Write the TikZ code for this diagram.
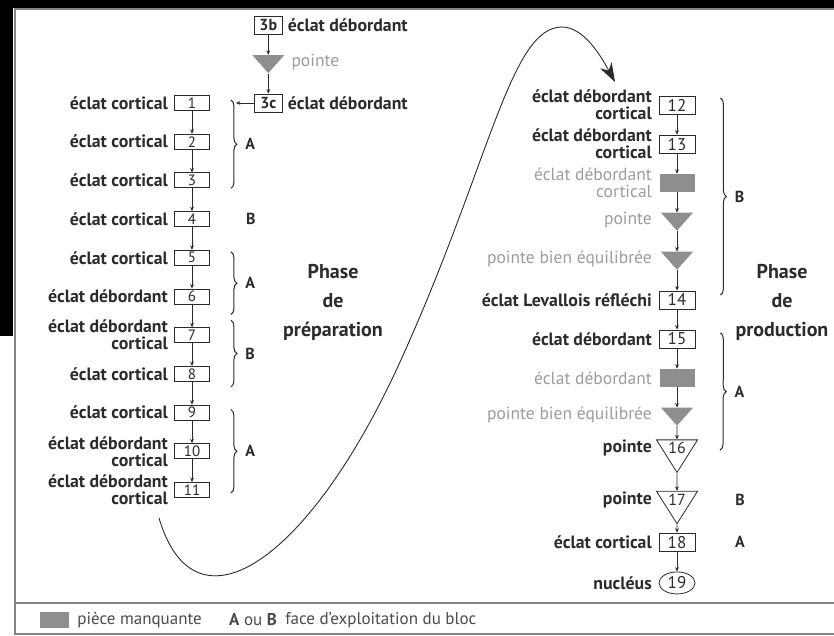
\documentclass[tikz,border=0pt]{standalone}
\usepackage{fontspec}
\setmainfont{PT Sans}
\usepackage{tikz}
\usepackage{xcolor}
\usetikzlibrary{arrows.meta,positioning,calc,shapes.geometric,decorations.pathreplacing}
\definecolor{Ink}{HTML}{2B2B2B}
\definecolor{Faded}{HTML}{9C9C9C}
\definecolor{Lost}{HTML}{8E8E8E}
\definecolor{Rule}{HTML}{858585}
\tikzset{
  numbox/.style={draw=Ink,line width=0.8pt,fill=white,minimum width=35pt,minimum height=15pt,inner sep=0pt,font=\fontsize{15}{15}\selectfont,text=Ink},
  bignumbox/.style={numbox,minimum width=36pt,minimum height=18pt,font=\fontsize{17}{17}\selectfont},
  topbox/.style={numbox,minimum width=28pt,minimum height=18pt,font=\bfseries\fontsize{16}{16}\selectfont},
  lostbox/.style={fill=Lost,minimum width=35pt,minimum height=18pt,inner sep=0pt},
  losttri/.style={fill=Lost,isosceles triangle,shape border rotate=270,isosceles triangle stretches,minimum width=32pt,minimum height=18pt,inner sep=0pt},
  tribox/.style={draw=Ink,line width=0.8pt,fill=white,isosceles triangle,shape border rotate=270,isosceles triangle stretches,minimum width=41pt,minimum height=27pt,inner sep=0pt,font=\fontsize{16}{16}\selectfont,text=Ink},
  nucbox/.style={draw=Ink,line width=0.8pt,ellipse,minimum width=36pt,minimum height=22pt,inner sep=0pt,font=\fontsize{17}{17}\selectfont,text=Ink},
  lab/.style={font=\bfseries\fontsize{17.8}{17}\selectfont,text=Ink,align=right,inner sep=0pt},
  greylab/.style={lab,font=\fontsize{17.5}{17}\selectfont,text=Faded},
  face/.style={font=\bfseries\fontsize{16}{16}\selectfont,text=Ink,inner sep=0pt},
  phase/.style={font=\bfseries\fontsize{20}{29}\selectfont,align=center,text=Ink},
  keytxt/.style={font=\fontsize{17}{17}\selectfont,text=Ink!85,inner sep=0pt},
  edgeline/.style={draw=Rule,line width=1.4pt},
  arr/.style={-{Stealth[length=4.5pt,width=3.8pt]},draw=Ink,line width=0.7pt},
  bigarr/.style={-{Stealth[length=19pt,width=13pt,inset=6pt]},draw=Ink,line width=0.9pt},
  brc/.style={decorate,decoration={brace,amplitude=6pt},draw=Ink,line width=1pt}
}
\begin{document}
\begin{tikzpicture}[x=1pt,y=1pt,node distance=20.3pt]
  \useasboundingbox (0,0) rectangle (834,636);
  % scan edges and frame
  \fill[black] (0,628) rectangle (834,636);
  \fill[black] (0,300) rectangle (13,636);
  \draw[edgeline] (15,2) rectangle (860,627);
  \draw[edgeline] (15,33) -- (860,33);

  % preparation column
  \node[numbox] (n1) at (192,533) {1};
  \node[numbox,below=22.9pt of n1] (n2) {2};
  \node[numbox,below=22.9pt of n2] (n3) {3};
  \node[numbox,below=22.9pt of n3] (n4) {4};
  \node[numbox,below=22.9pt of n4] (n5) {5};
  \node[numbox,below=22.9pt of n5] (n6) {6};
  \node[numbox,below=22.9pt of n6] (n7) {7};
  \node[numbox,below=22.9pt of n7] (n8) {8};
  \node[numbox,below=22.9pt of n8] (n9) {9};
  \node[numbox,below=22.9pt of n9] (n10) {10};
  \node[numbox,below=22.9pt of n10] (n11) {11};
  \node[lab,left=6pt of n1] (l1) {éclat cortical};
  \node[lab,left=6pt of n2] (l2) {éclat cortical};
  \node[lab,left=6pt of n3] (l3) {éclat cortical};
  \node[lab,left=6pt of n4] (l4) {éclat cortical};
  \node[lab,left=6pt of n5] (l5) {éclat cortical};
  \node[lab,left=6pt of n6] (l6) {éclat débordant};
  \node[lab,left=6pt of n7] (l7) {éclat débordant\\cortical};
  \node[lab,left=6pt of n8] (l8) {éclat cortical};
  \node[lab,left=6pt of n9] (l9) {éclat cortical};
  \node[lab,left=6pt of n10] (l10) {éclat débordant\\cortical};
  \node[lab,left=6pt of n11] (l11) {éclat débordant\\cortical};
  \draw[arr] (n1) -- (n2);
  \draw[arr] (n2) -- (n3);
  \draw[arr] (n3) -- (n4);
  \draw[arr] (n4) -- (n5);
  \draw[arr] (n5) -- (n6);
  \draw[arr] (n6) -- (n7);
  \draw[arr] (n7) -- (n8);
  \draw[arr] (n8) -- (n9);
  \draw[arr] (n9) -- (n10);
  \draw[arr] (n10) -- (n11);

  % 3b / 3c
  \node[topbox,right=44pt of n1] (n3c) {3c};
  \node[losttri,above=20pt of n3c] (p0) {};
  \node[topbox,above=20pt of p0] (n3b) {3b};
  \node[lab,right=5pt of n3b] (l3b) {éclat débordant};
  \node[greylab,right=23pt of p0.center] (lp0) {pointe};
  \node[lab,right=5pt of n3c] (l3c) {éclat débordant};
  \coordinate (hook) at ($(n1.east)+(26,0)$);
  \draw[arr] (n3b) -- (p0);
  \draw[arr] (p0) -- (n3c);
  \draw[arr] (n3c) -- (hook);

  % faces, preparation
  \draw[brc] ($(n1.east)+(21,3)$) -- ($(n3.east)+(21,-8)$) node[face,midway,right=14pt] {A};
  \node[face] at ($(n4.east)+(41,0)$) {B};
  \draw[brc] ($(n5.east)+(21,6)$) -- ($(n6.east)+(21,-18)$) node[face,midway,right=14pt] {A};
  \draw[brc] ($(n7.east)+(21,15)$) -- ($(n8.east)+(21,-13)$) node[face,midway,right=14pt] {B};
  \draw[brc] ($(n9.east)+(21,3)$) -- ($(n11.east)+(21,-3)$) node[face,midway,right=14pt] {A};
  \node[phase] (prep) at (333,334) {Phase\\de\\préparation};

  % production column
  \node[bignumbox] (n12) at (677,531) {12};
  \node[bignumbox,below=of n12] (n13) {13};
  \node[lostbox,below=of n13] (m1) {};
  \node[losttri,below=of m1] (p1) {};
  \node[losttri,below=of p1] (p2) {};
  \node[bignumbox,below=of p2] (n14) {14};
  \node[bignumbox,below=of n14] (n15) {15};
  \node[lostbox,below=of n15] (m2) {};
  \node[losttri,below=of m2] (p3) {};
  \node[tribox,below=13.3pt of p3] (n16) {16};
  \node[tribox,below=17.3pt of n16] (n17) {17};
  \node[bignumbox,below=8pt of n17] (n18) {18};
  \node[nucbox,below=20pt of n18] (n19) {19};
  \node[lab,left=25pt of n12.center] (l12) {éclat débordant\\cortical};
  \node[lab,left=25pt of n13.center] (l13) {éclat débordant\\cortical};
  \node[greylab,left=25pt of m1.center] (lm1) {éclat débordant\\cortical};
  \node[greylab,left=25pt of p1.center] (lp1) {pointe};
  \node[greylab,left=25pt of p2.center] (lp2) {pointe bien équilibrée};
  \node[lab,left=25pt of n14.center] (l14) {éclat Levallois réfléchi};
  \node[lab,left=25pt of n15.center] (l15) {éclat débordant};
  \node[greylab,left=25pt of m2.center] (lm2) {éclat débordant};
  \node[greylab,left=25pt of p3.center] (lp3) {pointe bien équilibrée};
  \node[lab,left=25pt of n16.center] (l16) {pointe};
  \node[lab,left=25pt of n17.center] (l17) {pointe};
  \node[lab,left=25pt of n18.center] (l18) {éclat cortical};
  \node[lab,left=25pt of n19.center] (l19) {nucléus};
  \draw[arr] (n12) -- (n13);
  \draw[arr] (n13) -- (m1);
  \draw[arr] (m1) -- (p1);
  \draw[arr] (p1) -- (p2);
  \draw[arr] (p2) -- (n14);
  \draw[arr] (n14) -- (n15);
  \draw[arr] (n15) -- (m2);
  \draw[arr] (m2) -- (p3);
  \draw[arr] (p3) -- (n16);
  \draw[arr] (n16) -- (n17);
  \draw[arr] (n17) -- (n18);
  \draw[arr] (n18) -- (n19);

  % faces, production
  \draw[brc] ($(n12.east)+(25,7)$) -- ($(n14.east)+(25,5)$) node[face,midway,right=14pt] {B};
  \draw[brc] ($(n15.east)+(25,6)$) -- ($(n16.center)+(43,-2)$) node[face,midway,right=14pt] {A};
  \node[face] at ($(n17.center)+(63,0)$) {B};
  \node[face] at ($(n18.center)+(63,0)$) {A};
  \node[phase] (prod) at (782,334) {Phase\\de\\production};

  % from preparation to production
  \coordinate (arcstart) at (159,118);
  \coordinate (arcend) at (615,554);
  \draw[bigarr] (arcstart) .. controls (195,-4) and (310,76) .. (400,274)
    .. controls (490,472) and (510,609) .. (562,609)
    .. controls (585,609) and (603,576) .. (arcend);

  % key
  \node[lostbox,minimum width=29pt,minimum height=16pt] (key) at (54.5,16) {};
  \node[keytxt,right=8pt of key] (keylost) {pièce manquante};
  \node[keytxt,anchor=west] (keyab) at (229,16) {\textbf{A} ou \textbf{B}};
  \node[keytxt,right=8pt of keyab] (keyface) {face d'exploitation du bloc};
\end{tikzpicture}
\end{document}
